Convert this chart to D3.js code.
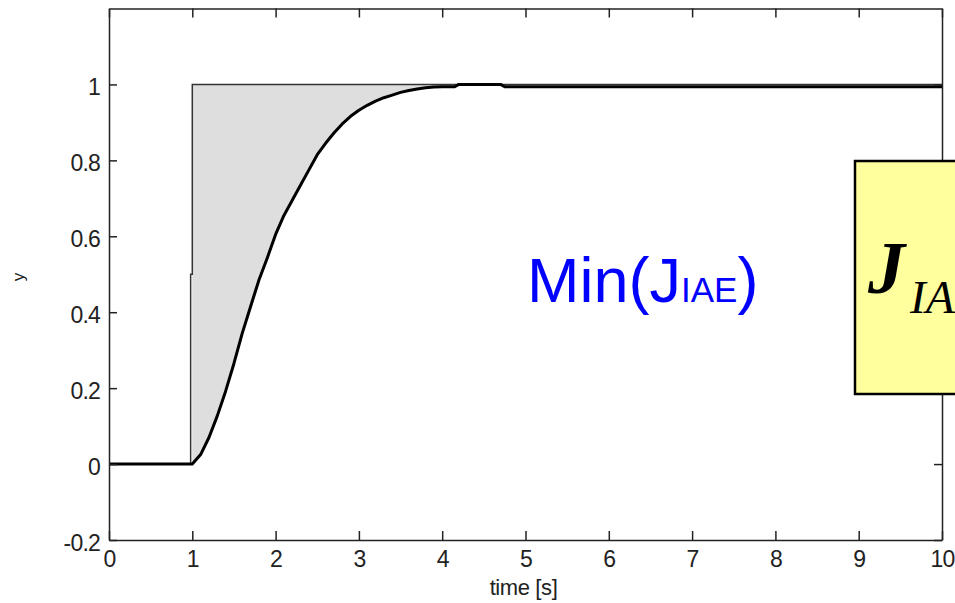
<!DOCTYPE html>
<html>
<head>
<meta charset="utf-8">
<script src="https://cdn.jsdelivr.net/npm/d3@7/dist/d3.min.js"></script>
<style>
  html, body { margin: 0; padding: 0; background: #fff; overflow: hidden; }
  svg { display: block; }
  .tick text { font-family: "Liberation Sans", Arial, sans-serif; fill: #222; letter-spacing: -0.8px; }
</style>
</head>
<body>
<svg id="chart" width="955" height="603"></svg>
<script>
// Axis ticks
const xTicks = [0, 1, 2, 3, 4, 5, 6, 7, 8, 9, 10];
const yTicks = [-0.2, 0, 0.2, 0.4, 0.6, 0.8, 1];

// Unit step set-point (sampled edge at t = 1)
const stepT = [0, 0.98, 0.98, 1, 1, 10];
const stepY = [0, 0, 0.5, 0.5, 1, 1];

// Closed-loop response
const respT = [0, 1.0, 1.1, 1.2, 1.3, 1.4, 1.5, 1.6, 1.7, 1.8, 1.9, 2.0, 2.1, 2.2, 2.3, 2.4, 2.5,
               2.6, 2.7, 2.8, 2.9, 3.0, 3.1, 3.2, 3.3, 3.4, 3.5, 3.6, 3.7, 3.8, 3.9, 4.0, 4.15, 4.2, 4.7, 4.75, 10];
const respY = [0, 0, 0.025, 0.07, 0.127, 0.192, 0.265, 0.345, 0.415, 0.485, 0.543, 0.605, 0.655, 0.695, 0.735, 0.775, 0.815,
               0.845, 0.872, 0.896, 0.916, 0.932, 0.945, 0.956, 0.965, 0.972, 0.979, 0.984, 0.988, 0.991, 0.993, 0.994, 0.994, 1.0, 1.0, 0.994, 0.994];

const svg = d3.select("#chart");
const x = d3.scaleLinear().domain([0, 10]).range([109, 942]);
const y = d3.scaleLinear().domain([-0.2, 1.2]).range([540, 8.5]);

const resp = respT.map((t, i) => ({ t, v: respY[i] }));
const step = stepT.map((t, i) => ({ t, v: stepY[i] }));

// Shaded integral of absolute error between set-point and response
const errRegion = resp.filter(d => d.t >= 1 && d.t <= 4.2);
svg.append("path")
  .datum(errRegion)
  .attr("fill", "#dedede")
  .attr("d", d3.area().x(d => x(d.t)).y0(y(1)).y1(d => y(d.v)));

// Set-point line
svg.append("path")
  .datum(step)
  .attr("fill", "none")
  .attr("stroke", "#333")
  .attr("stroke-width", 1.5)
  .attr("d", d3.line().x(d => x(d.t)).y(d => y(d.v)));

// Response curve
svg.append("path")
  .datum(resp)
  .attr("fill", "none")
  .attr("stroke", "#000")
  .attr("stroke-width", 3)
  .attr("stroke-linejoin", "round")
  .attr("d", d3.line().x(d => x(d.t)).y(d => y(d.v)));

// Axes: MATLAB-style box with inward ticks on all four sides
function styleAxis(g) {
  g.selectAll(".domain").attr("stroke", "#222").attr("stroke-width", 1.5);
  g.selectAll(".tick line").attr("stroke", "#222").attr("stroke-width", 1.5);
}

svg.append("g")
  .attr("transform", `translate(0,${y(-0.2)})`)
  .call(d3.axisBottom(x).tickValues(xTicks).tickSize(-9).tickSizeOuter(0).tickPadding(11).tickFormat(d => String(d)))
  .call(styleAxis)
  .call(g => g.selectAll(".tick text").attr("font-size", 23));

svg.append("g")
  .attr("transform", `translate(0,${y(1.2)})`)
  .call(d3.axisTop(x).tickValues(xTicks).tickSize(-9).tickSizeOuter(0).tickFormat(""))
  .call(styleAxis);

svg.append("g")
  .attr("transform", `translate(${x(0)},0)`)
  .call(d3.axisLeft(y).tickValues(yTicks).tickSize(-8).tickSizeOuter(0).tickPadding(9).tickFormat(d => String(d)))
  .call(styleAxis)
  .call(g => g.selectAll(".tick text").attr("font-size", 23).attr("dy", "0.45em"));

svg.append("g")
  .attr("transform", `translate(${x(10)},0)`)
  .call(d3.axisRight(y).tickValues(yTicks).tickSize(-8).tickSizeOuter(0).tickFormat(""))
  .call(styleAxis);

// Axis titles
svg.append("text")
  .attr("x", (x(0) + x(10)) / 2 - 2)
  .attr("y", 595)
  .attr("text-anchor", "middle")
  .attr("font-family", "Liberation Sans, Arial, sans-serif")
  .attr("font-size", 22)
  .attr("letter-spacing", -0.4)
  .attr("fill", "#222")
  .text("time [s]");

svg.append("text")
  .attr("transform", "translate(24,277) rotate(-90)")
  .attr("text-anchor", "middle")
  .attr("font-family", "Liberation Sans, Arial, sans-serif")
  .attr("font-size", 17)
  .attr("fill", "#222")
  .text("y");

// Criterion annotation
const ann = svg.append("text")
  .attr("x", 527)
  .attr("y", 302)
  .attr("font-family", "Liberation Sans, Arial, sans-serif")
  .attr("font-size", 63)
  .attr("fill", "#0000ff");
ann.append("tspan").text("Min(J");
ann.append("tspan").attr("font-size", 35).text("IAE");
ann.append("tspan").text(")");

// Formula box
svg.append("rect")
  .attr("x", 855)
  .attr("y", 161)
  .attr("width", 160)
  .attr("height", 233)
  .attr("fill", "#ffff9e")
  .attr("stroke", "#000")
  .attr("stroke-width", 2.5);

const jf = svg.append("text")
  .attr("x", 868)
  .attr("y", 293)
  .attr("font-family", "Liberation Serif, Times New Roman, serif")
  .attr("font-style", "italic")
  .attr("fill", "#000");
jf.append("tspan").attr("font-size", 74).attr("font-weight", "bold").text("J");
jf.append("tspan").attr("font-size", 47).attr("x", 910).attr("y", 313).text("IAE");
</script>
</body>
</html>
